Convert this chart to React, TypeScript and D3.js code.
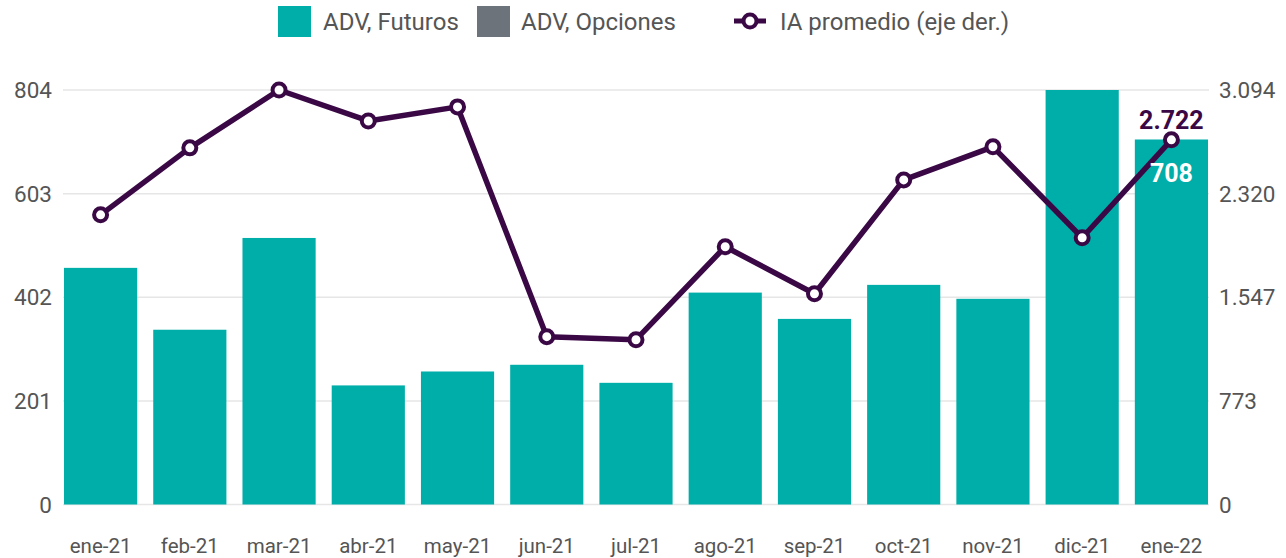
import React from "react";
import * as d3 from "d3";

const categories = ["ene-21","feb-21","mar-21","abr-21","may-21","jun-21","jul-21","ago-21","sep-21","oct-21","nov-21","dic-21","ene-22"];
const futuros = [459, 339, 517, 231, 258, 271, 236, 411, 360, 426, 399, 804, 708];
const opciones = [0, 0, 0, 0, 0, 0, 0, 0, 0, 0, 0, 0, 0];
const iaPromedio = [2162, 2662, 3094, 2863, 2968, 1253, 1230, 1924, 1573, 2423, 2670, 1991, 2722];
const leftTicks = [0, 201, 402, 603, 804];
const rightTicks = [0, 773, 1547, 2320, 3094];

const W = 1286, H = 558;
const TEAL = "#00AEA9";
const GRAY = "#6C737A";
const PURPLE = "#3B0846";
const TEXT = "#555555";
const FONT = "Roboto, 'Noto Sans', sans-serif";

const fmt = (v: number) => d3.format(",")(v).replace(/,/g, ".");

export default function App() {
  const x = d3.scaleBand<string>().domain(categories).range([64, 1208]).paddingInner(0.18).paddingOuter(0);
  const yL = d3.scaleLinear().domain([0, 804]).range([504.5, 90]);
  const yR = d3.scaleLinear().domain([0, 3094]).range([504.5, 90]);
  const line = d3.line<number>().x((_, i) => x(categories[i])! + x.bandwidth() / 2).y((d) => yR(d));
  const last = categories.length - 1;
  const lx = x(categories[last])! + x.bandwidth() / 2;
  return (
    <svg width={W} height={H} style={{ position: "absolute", left: 0, top: 0, background: "#fff" }} fontFamily={FONT}>
      <rect width={W} height={H} fill="#fff" />
      {/* legend */}
      <g fontSize={24} fill={TEXT}>
        <rect x={278} y={6} width={33} height={31} fill={TEAL} />
        <text x={323} y={30}>ADV, Futuros</text>
        <rect x={477} y={6} width={33} height={31} fill={GRAY} />
        <text x={521} y={30}>ADV, Opciones</text>
        <line x1={734} x2={766} y1={21} y2={21} stroke={PURPLE} strokeWidth={5} />
        <circle cx={750} cy={21} r={6.5} fill="#fff" stroke={PURPLE} strokeWidth={4} />
        <text x={780} y={30}>IA promedio (eje der.)</text>
      </g>
      {/* grid */}
      {leftTicks.map((t) => (
        <line key={t} x1={63} x2={1209} y1={yL(t)} y2={yL(t)} stroke="#e6e6e6" strokeWidth={1.5} />
      ))}
      {/* left axis */}
      <g fontSize={22.5} fill={TEXT} textAnchor="end">
        {leftTicks.map((t) => (
          <text key={t} x={52} y={yL(t) + 8}>{fmt(t)}</text>
        ))}
      </g>
      <g fontSize={22.5} fill={TEXT} textAnchor="start">
        {rightTicks.map((t) => (
          <text key={t} x={1219} y={yR(t) + 8}>{fmt(t)}</text>
        ))}
      </g>
      {/* bars */}
      {categories.map((c, i) => (
        <g key={c}>
          <rect x={x(c)} y={yL(futuros[i])} width={x.bandwidth()} height={yL(0) - yL(futuros[i])} fill={TEAL} />
          {opciones[i] > 0 && (
            <rect x={x(c)} y={yL(futuros[i] + opciones[i])} width={x.bandwidth()} height={yL(0) - yL(opciones[i])} fill={GRAY} />
          )}
        </g>
      ))}
      {/* x labels */}
      <g fontSize={20.5} fill={TEXT} textAnchor="middle">
        {categories.map((c) => (
          <text key={c} x={x(c)! + x.bandwidth() / 2} y={553}>{c}</text>
        ))}
      </g>
      {/* line */}
      <path d={line(iaPromedio)!} fill="none" stroke={PURPLE} strokeWidth={5.5} strokeLinejoin="round" />
      {iaPromedio.map((v, i) => (
        <circle key={i} cx={x(categories[i])! + x.bandwidth() / 2} cy={yR(v)} r={6.5} fill="#fff" stroke={PURPLE} strokeWidth={4} />
      ))}
      {/* data labels */}
      <text x={lx} y={yR(iaPromedio[last]) - 11} textAnchor="middle" fontSize={25} fontWeight="bold" fill={PURPLE}>{fmt(iaPromedio[last])}</text>
      <text x={lx} y={yL(futuros[last]) + 43} textAnchor="middle" fontSize={25} fontWeight="bold" fill="#fff">{fmt(futuros[last])}</text>
    </svg>
  );
}
